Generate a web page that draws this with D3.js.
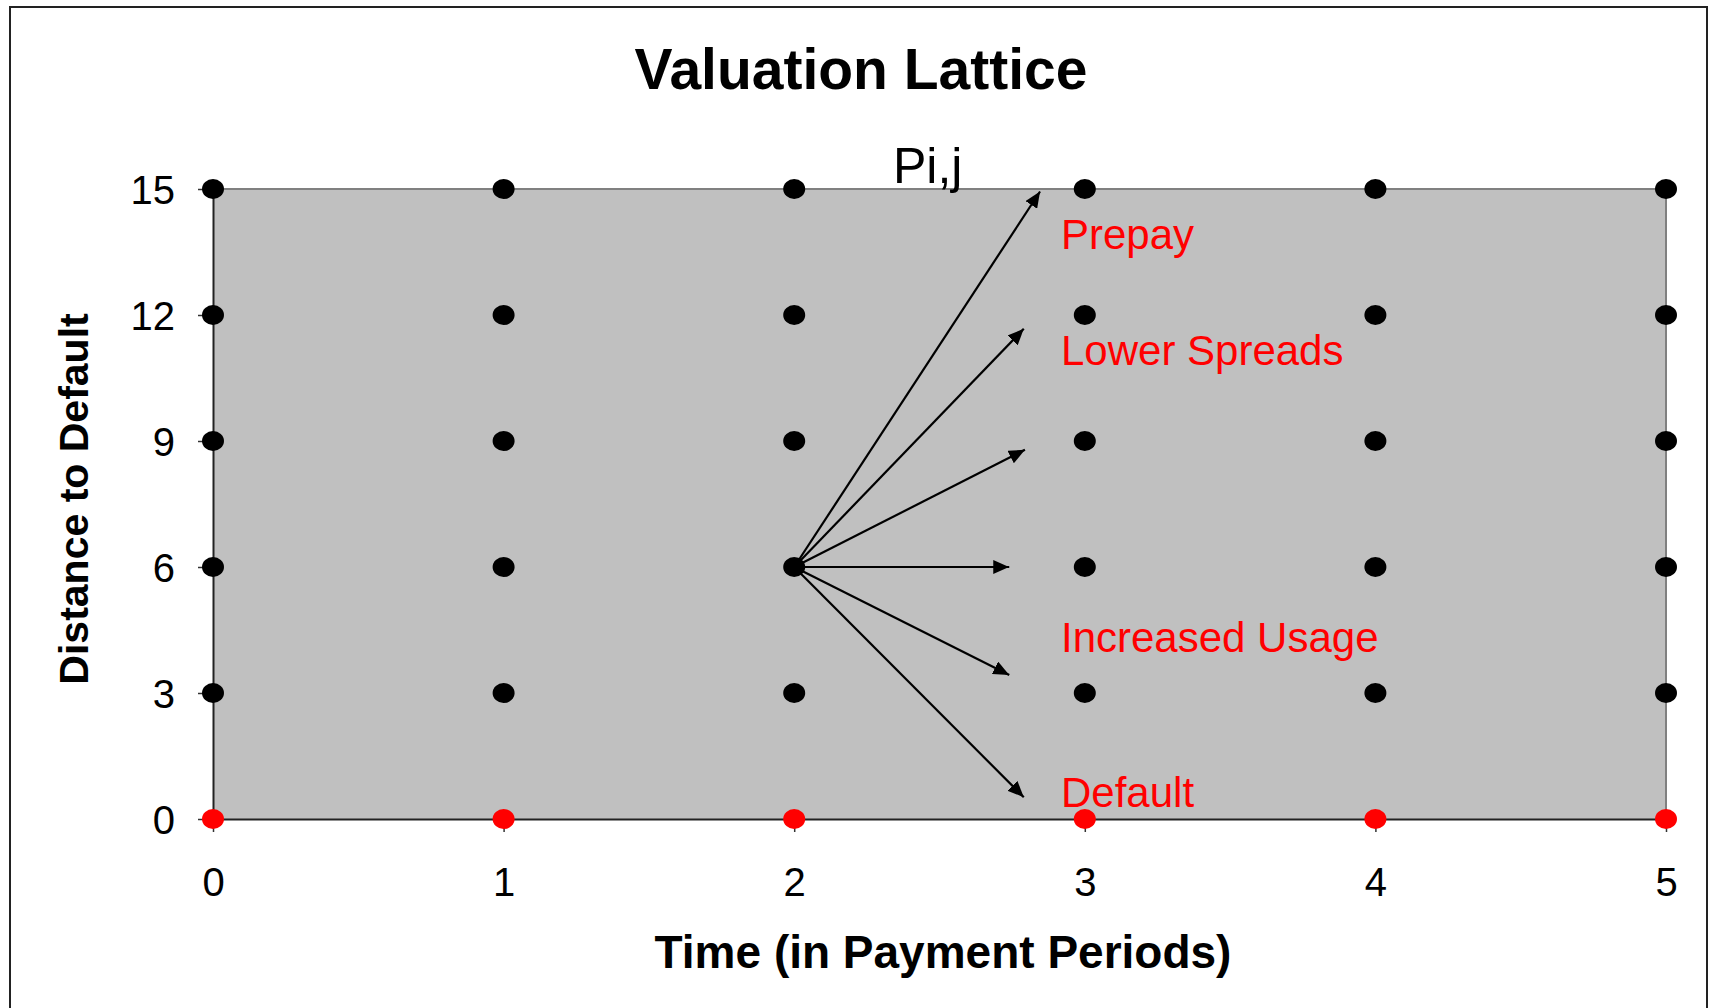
<!DOCTYPE html>
<html>
<head>
<meta charset="utf-8">
<script src="https://cdn.jsdelivr.net/npm/d3@7"></script>
<style>
  html, body { margin: 0; padding: 0; background: #fff; }
  svg { display: block; font-family: "Liberation Sans", Arial, Helvetica, sans-serif; }
</style>
</head>
<body>
<svg id="chart" width="1710" height="1008"></svg>
<script>
// ---- data ----
const times = [0, 1, 2, 3, 4, 5];
const levels = [0, 3, 6, 9, 12, 15];
const xTicks = [0, 1, 2, 3, 4, 5];
const yTicks = [0, 3, 6, 9, 12, 15];
const defaultLevel = 0;
const arrowOrigin = [2, 6];
const arrowEnds = [
  [2.846, 14.94],
  [2.79, 11.67],
  [2.794, 8.79],
  [2.74, 6],
  [2.74, 3.43],
  [2.79, 0.52]
];
const redLabels = ["Prepay", "Lower Spreads", "Increased Usage", "Default"];
const redLabelX = [2.918, 2.918, 2.918, 2.918];
const redLabelY = [13.57, 10.81, 3.98, 0.29];
const nodeLabel = "Pi,j";
const nodeLabelPos = [2.34, 15.14];
const titleText = "Valuation Lattice";
const xTitle = "Time (in Payment Periods)";
const yTitle = "Distance to Default";

// ---- layout ----
const svg = d3.select("#chart");
const L = 213, R = 1666, T = 189, B = 819;
const x = d3.scaleLinear().domain([0, 5]).range([L, R]);
const y = d3.scaleLinear().domain([0, 15]).range([B, T]);

// outer frame
svg.append("rect").attr("x", 10).attr("y", 7).attr("width", 1697).attr("height", 1100)
  .attr("fill", "#fff").attr("stroke", "#222").attr("stroke-width", 2);

// plot area
svg.append("rect").attr("x", L).attr("y", T).attr("width", R - L).attr("height", B - T)
  .attr("fill", "#C0C0C0");
svg.append("path").attr("d", `M${L},${T}H${R}V${B}`)
  .attr("fill", "none").attr("stroke", "#808080").attr("stroke-width", 2);

// axes
const yAxis = d3.axisLeft(y).tickValues(yTicks).tickFormat(d3.format("d"))
  .tickSize(15).tickSizeOuter(0).tickPadding(23);
const gy = svg.append("g").attr("transform", `translate(${L},0)`).call(yAxis);
gy.select(".domain").attr("stroke", "#222").attr("stroke-width", 2);
gy.selectAll(".tick line").attr("stroke", "#333").attr("stroke-width", 1.5);
gy.selectAll(".tick text").attr("font-size", 40).attr("fill", "#000")
  .attr("dy", "0.36em").style("font-family", "'Liberation Sans', Arial, sans-serif");

const xAxis = d3.axisBottom(x).tickValues(xTicks).tickFormat(d3.format("d"))
  .tickSize(13).tickSizeOuter(0).tickPadding(36);
const gx = svg.append("g").attr("transform", `translate(0,${B})`).call(xAxis);
gx.select(".domain").attr("stroke", "#222").attr("stroke-width", 2);
gx.selectAll(".tick line").attr("stroke", "#333").attr("stroke-width", 1.5);
gx.selectAll(".tick text").attr("font-size", 40).attr("fill", "#000")
  .style("font-family", "'Liberation Sans', Arial, sans-serif");

// arrow marker
const defs = svg.append("defs");
defs.append("marker").attr("id", "arr")
  .attr("viewBox", "0 0 16 14").attr("refX", 16).attr("refY", 7)
  .attr("markerWidth", 16).attr("markerHeight", 14)
  .attr("markerUnits", "userSpaceOnUse").attr("orient", "auto")
  .append("path").attr("d", "M0,0L16,7L0,14Z").attr("fill", "#000");

svg.append("g").selectAll("line").data(arrowEnds).join("line")
  .attr("x1", x(arrowOrigin[0])).attr("y1", y(arrowOrigin[1]))
  .attr("x2", d => x(d[0])).attr("y2", d => y(d[1]))
  .attr("stroke", "#000").attr("stroke-width", 2.2)
  .attr("marker-end", "url(#arr)");

// lattice nodes
const nodes = [];
times.forEach(t => levels.forEach(l => nodes.push({ t, l })));
svg.append("g").selectAll("ellipse").data(nodes).join("ellipse")
  .attr("cx", d => x(d.t)).attr("cy", d => y(d.l))
  .attr("rx", 11).attr("ry", 10)
  .attr("fill", d => d.l === defaultLevel ? "#FF0000" : "#000");

// labels
svg.append("text").attr("x", x(nodeLabelPos[0])).attr("y", y(nodeLabelPos[1]))
  .attr("font-size", 50).attr("fill", "#000").text(nodeLabel);

svg.append("g").selectAll("text").data(redLabels).join("text")
  .attr("x", (d, i) => x(redLabelX[i])).attr("y", (d, i) => y(redLabelY[i]))
  .attr("font-size", 42).attr("fill", "#FF0000").text(d => d);

// titles
svg.append("text").attr("x", 861).attr("y", 89).attr("text-anchor", "middle")
  .attr("font-size", 57).attr("font-weight", "bold").attr("fill", "#000").text(titleText);
svg.append("text").attr("x", 943).attr("y", 968).attr("text-anchor", "middle")
  .attr("font-size", 46).attr("font-weight", "bold").attr("fill", "#000").text(xTitle);
svg.append("text").attr("transform", "translate(88,499) rotate(-90)").attr("text-anchor", "middle")
  .attr("font-size", 41).attr("font-weight", "bold").attr("fill", "#000").text(yTitle);
</script>
</body>
</html>
